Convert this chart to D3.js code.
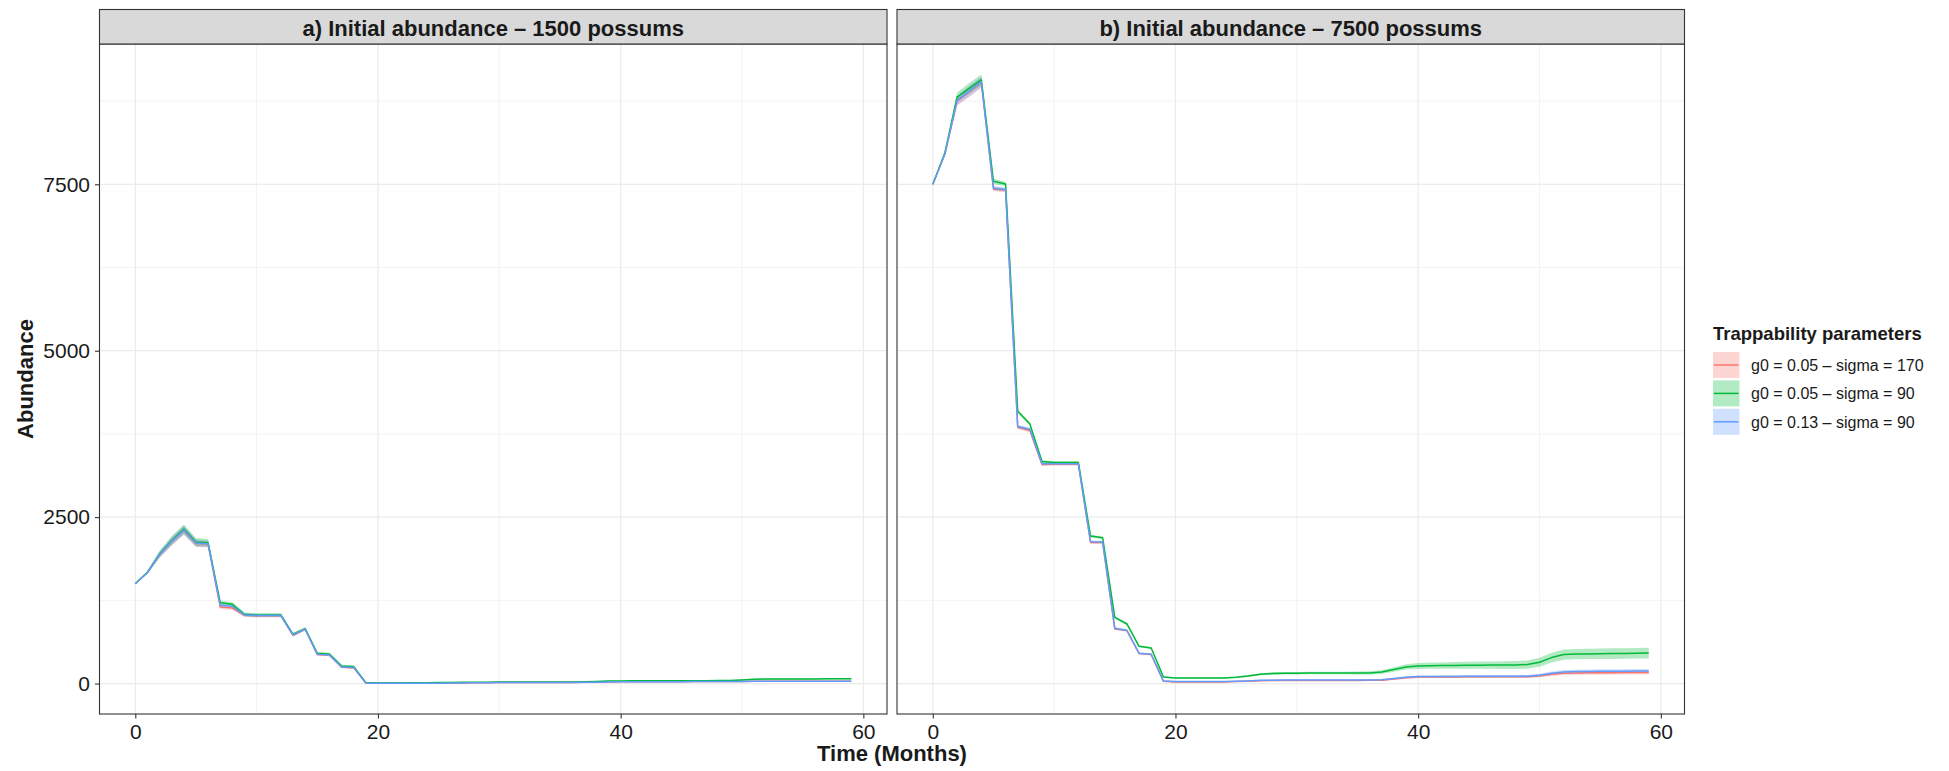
<!DOCTYPE html>
<html>
<head>
<meta charset="utf-8">
<script src="https://cdn.jsdelivr.net/npm/d3@7"></script>
<style>
  html, body { margin: 0; padding: 0; background: #fff; }
  svg { display: block; font-family: "Liberation Sans", Arial, Helvetica, sans-serif; }
</style>
</head>
<body>
<div id="chart"></div>
<script>
// ---- data ----
const months = [0,1,2,3,4,5,6,7,8,9,10,11,12,13,14,15,16,17,18,19,20,21,22,23,24,25,26,27,28,29,
  30,31,32,33,34,35,36,37,38,39,40,41,42,43,44,45,46,47,48,49,50,51,52,53,54,55,56,57,58,59];

const panelTitles = ["a) Initial abundance \u2013 1500 possums", "b) Initial abundance \u2013 7500 possums"];
const seriesLabels = ["g0 = 0.05 \u2013 sigma = 170", "g0 = 0.05 \u2013 sigma = 90", "g0 = 0.13 \u2013 sigma = 90"];
const xTicks = [0, 20, 40, 60];
const yTicks = [0, 2500, 5000, 7500];

// panel a, mean abundance
const redA = [1500,1668,1935,2135,2300,2105,2095,1150,1135,1025,1020,1020,1020,725,815,435,425,245,235,8,
  4,4,4,4,5,6,8,10,12,13,14,14,14,14,15,15,16,18,20,24,26,27,27,28,28,28,29,29,30,30,
  32,34,35,35,35,35,35,35,35,35];
const greenA = [1500,1672,1945,2150,2320,2125,2115,1215,1190,1040,1030,1030,1030,740,825,455,445,265,255,14,
  10,10,10,11,12,14,16,18,20,21,22,22,22,22,22,23,24,27,32,38,40,41,41,42,42,42,43,43,44,46,
  55,63,68,69,70,70,70,71,71,72];
const blueA = [1500,1668,1938,2138,2305,2110,2100,1175,1160,1030,1022,1022,1022,730,820,440,430,250,240,8,
  4,4,4,4,5,6,8,10,12,13,14,14,14,14,15,15,16,18,20,24,26,27,27,28,28,28,29,29,30,30,
  32,34,36,36,36,36,36,36,36,36];
// panel a, ribbon half-widths
const redAspread = [0,20,45,60,65,55,50,30,28,25,25,25,25,20,20,15,15,12,12,5,
  4,4,4,4,4,4,4,4,4,4,4,4,4,4,4,4,4,4,4,4,4,4,4,4,4,4,4,4,4,4,5,5,5,5,5,5,5,5,5,5];
const greenAspread = [0,20,50,65,70,60,55,32,30,26,26,26,26,22,22,16,16,13,13,6,
  5,5,5,5,5,5,5,5,5,5,5,5,5,5,5,5,5,6,6,7,7,7,7,7,7,7,7,7,7,8,9,10,10,10,10,10,10,10,10,10];
const blueAspread = [0,20,45,60,65,55,50,30,28,25,25,25,25,20,20,15,15,12,12,5,
  4,4,4,4,4,4,4,4,4,4,4,4,4,4,4,4,4,4,4,4,4,4,4,4,4,4,4,4,4,4,5,5,5,5,5,5,5,5,5,5];

// panel b, mean abundance
const redB = [7500,7955,8750,8890,9030,7430,7410,3850,3800,3290,3295,3295,3295,2120,2120,820,795,450,435,35,
  25,25,25,25,25,30,35,42,45,47,47,47,47,47,47,47,48,50,68,88,98,99,100,100,101,101,101,102,102,103,
  115,140,155,160,162,163,164,165,165,166];
const greenB = [7500,7975,8810,8940,9070,7545,7505,4090,3900,3335,3320,3320,3320,2215,2190,995,895,560,535,100,
  85,85,85,85,85,95,115,140,150,155,155,158,158,158,158,158,160,172,210,250,265,268,270,272,274,276,277,278,279,285,
  320,390,435,442,445,448,450,452,455,458];
const blueB = [7500,7960,8760,8900,9040,7440,7420,3860,3820,3300,3300,3300,3300,2130,2125,830,800,455,440,40,
  30,30,30,30,30,35,40,48,50,52,52,52,52,52,52,52,53,56,75,95,105,106,107,107,108,108,108,108,109,110,
  125,155,175,180,182,184,185,186,187,188];
// panel b, ribbon half-widths
const redBspread = [0,30,70,80,80,35,30,25,25,20,20,20,20,20,20,15,15,12,12,8,
  8,8,8,8,8,8,9,10,10,10,10,10,10,10,10,10,10,11,13,15,16,16,17,17,18,18,18,19,19,20,22,25,27,28,28,29,29,30,30,30];
const greenBspread = [0,30,70,80,80,40,35,25,25,20,20,20,20,20,20,20,20,15,15,10,
  10,10,10,10,10,12,14,16,18,20,20,20,20,20,20,22,24,28,34,40,45,47,48,50,52,54,56,58,60,62,66,72,76,78,78,80,80,80,80,80];
const blueBspread = [0,30,70,80,80,35,30,25,25,20,20,20,20,20,20,15,15,12,12,8,
  8,8,8,8,8,8,9,10,10,10,10,10,10,10,10,10,10,11,13,15,16,16,17,17,18,18,18,19,19,20,22,25,27,28,28,29,29,30,30,30];

const panelData = [
  [{ mean: redA, spread: redAspread }, { mean: greenA, spread: greenAspread }, { mean: blueA, spread: blueAspread }],
  [{ mean: redB, spread: redBspread }, { mean: greenB, spread: greenBspread }, { mean: blueB, spread: blueBspread }],
];

// ---- styles / layout ----
const colors = ["#F8766D", "#00BA38", "#619CFF"];
const width = 1949, height = 771;
const panelX = [[99.5, 887], [897, 1684.5]];
const stripTop = 9.5, panelTop = 44, panelBottom = 714;
const ink = "#1a1a1a";

const svg = d3.select("#chart").append("svg").attr("width", width).attr("height", height);

// shared y scale with ggplot-style 5% expansion
const allLow = panelData.flat().flatMap((s) => s.mean.map((m, i) => m - s.spread[i]));
const allHigh = panelData.flat().flatMap((s) => s.mean.map((m, i) => m + s.spread[i]));
const yLo = d3.min(allLow), yHi = d3.max(allHigh);
const yPad = (yHi - yLo) * 0.05;
const y = d3.scaleLinear().domain([yLo - yPad, yHi + yPad]).range([panelBottom, panelTop]);
const xPad = (d3.max(months) - d3.min(months)) * 0.05;

panelData.forEach((series, p) => {
  const [x0, x1] = panelX[p];
  const x = d3.scaleLinear().domain([d3.min(months) - xPad, d3.max(months) + xPad]).range([x0, x1]);
  const g = svg.append("g");
  const clipId = "clip" + p;
  svg.append("defs").append("clipPath").attr("id", clipId)
    .append("rect").attr("x", x0).attr("y", panelTop).attr("width", x1 - x0).attr("height", panelBottom - panelTop);

  // grid
  const minorX = [10, 30, 50], minorY = [1250, 3750, 6250, 8750];
  g.append("g").selectAll("line").data(minorX).join("line")
    .attr("x1", (d) => x(d)).attr("x2", (d) => x(d)).attr("y1", panelTop).attr("y2", panelBottom)
    .attr("stroke", "#EBEBEB").attr("stroke-width", 0.6);
  g.append("g").selectAll("line").data(minorY).join("line")
    .attr("x1", x0).attr("x2", x1).attr("y1", (d) => y(d)).attr("y2", (d) => y(d))
    .attr("stroke", "#EBEBEB").attr("stroke-width", 0.6);
  g.append("g").selectAll("line").data(xTicks).join("line")
    .attr("x1", (d) => x(d)).attr("x2", (d) => x(d)).attr("y1", panelTop).attr("y2", panelBottom)
    .attr("stroke", "#EBEBEB").attr("stroke-width", 1.2);
  g.append("g").selectAll("line").data(yTicks).join("line")
    .attr("x1", x0).attr("x2", x1).attr("y1", (d) => y(d)).attr("y2", (d) => y(d))
    .attr("stroke", "#EBEBEB").attr("stroke-width", 1.2);

  // ribbons then lines
  const plot = g.append("g").attr("clip-path", `url(#${clipId})`);
  const area = d3.area().x((d) => x(d.t)).y0((d) => y(d.lo)).y1((d) => y(d.hi));
  const line = d3.line().x((d) => x(d.t)).y((d) => y(d.v));
  series.forEach((s, k) => {
    const pts = months.map((t, i) => ({ t, lo: s.mean[i] - s.spread[i], hi: s.mean[i] + s.spread[i] }));
    plot.append("path").attr("d", area(pts)).attr("fill", colors[k]).attr("fill-opacity", 0.3);
  });
  series.forEach((s, k) => {
    const pts = months.map((t, i) => ({ t, v: s.mean[i] }));
    plot.append("path").attr("d", line(pts)).attr("fill", "none")
      .attr("stroke", colors[k]).attr("stroke-width", 1.5).attr("stroke-linejoin", "round");
  });

  // border
  g.append("rect").attr("x", x0).attr("y", panelTop).attr("width", x1 - x0).attr("height", panelBottom - panelTop)
    .attr("fill", "none").attr("stroke", "#333333").attr("stroke-width", 1.1);

  // strip
  g.append("rect").attr("x", x0).attr("y", stripTop).attr("width", x1 - x0).attr("height", panelTop - stripTop)
    .attr("fill", "#D9D9D9").attr("stroke", "#333333").attr("stroke-width", 1.1);
  g.append("text").attr("x", (x0 + x1) / 2).attr("y", 36).attr("text-anchor", "middle")
    .attr("font-size", 22).attr("font-weight", "bold").attr("fill", ink).text(panelTitles[p]);

  // x axis
  const xAxis = g.append("g").attr("transform", `translate(0,${panelBottom})`)
    .call(d3.axisBottom(x).tickValues(xTicks).tickSize(4.5).tickPadding(6).tickFormat(d3.format("d")));
  xAxis.select(".domain").remove();
  xAxis.selectAll("line").attr("stroke", "#333333").attr("stroke-width", 1.1);
  xAxis.selectAll("text").attr("font-size", 21).attr("fill", ink).attr("font-family", null);

  if (p === 0) {
    const yAxis = g.append("g").attr("transform", `translate(${x0},0)`)
      .call(d3.axisLeft(y).tickValues(yTicks).tickSize(4.5).tickPadding(5).tickFormat(d3.format("d")));
    yAxis.select(".domain").remove();
    yAxis.selectAll("line").attr("stroke", "#333333").attr("stroke-width", 1.1);
    yAxis.selectAll("text").attr("font-size", 21).attr("fill", ink).attr("font-family", null);
  }
});

// axis titles
svg.append("text").attr("x", (panelX[0][0] + panelX[1][1]) / 2).attr("y", 761).attr("text-anchor", "middle")
  .attr("font-size", 22).attr("font-weight", "bold").attr("fill", ink).text("Time (Months)");
svg.append("text").attr("transform", `translate(33,${(panelTop + panelBottom) / 2}) rotate(-90)`)
  .attr("text-anchor", "middle").attr("font-size", 22).attr("font-weight", "bold").attr("fill", ink).text("Abundance");

// legend
const legend = svg.append("g").attr("transform", "translate(1713,0)");
legend.append("text").attr("x", 0).attr("y", 340).attr("font-size", 18.5).attr("font-weight", "bold")
  .attr("fill", ink).text("Trappability parameters");
const keys = legend.selectAll("g.key").data(seriesLabels).join("g").attr("class", "key")
  .attr("transform", (d, i) => `translate(0,${352 + i * 28.4})`);
keys.append("rect").attr("width", 26.5).attr("height", 26).attr("fill", (d, i) => colors[i]).attr("fill-opacity", 0.3);
keys.append("line").attr("x1", 1).attr("x2", 25.5).attr("y1", 13).attr("y2", 13)
  .attr("stroke", (d, i) => colors[i]).attr("stroke-width", 1.5);
keys.append("text").attr("x", 38).attr("y", 19).attr("font-size", 16).attr("fill", ink).text((d) => d);
</script>
</body>
</html>
